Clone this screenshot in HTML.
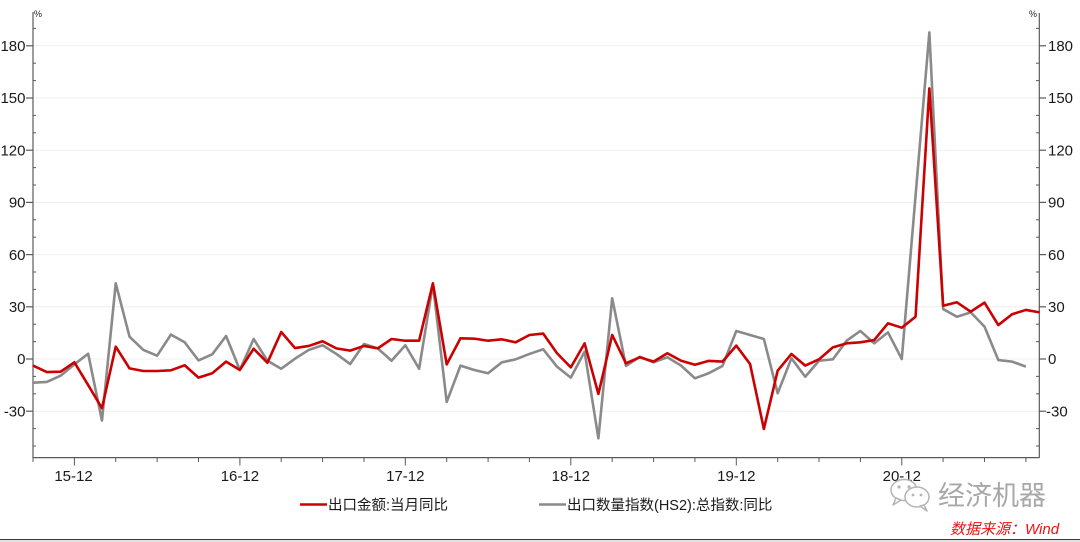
<!DOCTYPE html>
<html>
<head>
<meta charset="utf-8">
<style>
  html, body { margin: 0; padding: 0; background: #ffffff; }
  body { width: 1080px; height: 542px; overflow: hidden; }
  svg { display: block; }
  .ax { font-family: "Liberation Sans", "Noto Sans CJK SC", sans-serif; font-size: 15px; fill: #1a1a1a; }
  .lg { font-family: "Liberation Sans", "Noto Sans CJK SC", sans-serif; font-size: 14.5px; fill: #1a1a1a; }
</style>
</head>
<body>
<svg width="1080" height="542" viewBox="0 0 1080 542" xmlns="http://www.w3.org/2000/svg">
  <rect x="0" y="0" width="1080" height="542" fill="#ffffff"/>

  <!-- grid lines -->
  <g stroke="#efefef" stroke-width="1">
    <line x1="34" y1="45.8" x2="1039" y2="45.8"/>
    <line x1="34" y1="98" x2="1039" y2="98"/>
    <line x1="34" y1="150.2" x2="1039" y2="150.2"/>
    <line x1="34" y1="202.4" x2="1039" y2="202.4"/>
    <line x1="34" y1="254.6" x2="1039" y2="254.6"/>
    <line x1="34" y1="306.8" x2="1039" y2="306.8"/>
    <line x1="34" y1="359" x2="1039" y2="359"/>
    <line x1="34" y1="411.2" x2="1039" y2="411.2"/>
  </g>

  <!-- axes -->
  <g stroke="#5a5a5a" stroke-width="1.2" fill="none">
    <line x1="33" y1="12" x2="33" y2="458"/>
    <line x1="1039.3" y1="13" x2="1039.3" y2="458"/>
    <line x1="33" y1="457.6" x2="1039.3" y2="457.6"/>
  </g>

  <!-- left major ticks -->
  <g stroke="#5a5a5a" stroke-width="1.2">
    <line x1="26" y1="45.8" x2="33" y2="45.8"/>
    <line x1="26" y1="98" x2="33" y2="98"/>
    <line x1="26" y1="150.2" x2="33" y2="150.2"/>
    <line x1="26" y1="202.4" x2="33" y2="202.4"/>
    <line x1="26" y1="254.6" x2="33" y2="254.6"/>
    <line x1="26" y1="306.8" x2="33" y2="306.8"/>
    <line x1="26" y1="359" x2="33" y2="359"/>
    <line x1="26" y1="411.2" x2="33" y2="411.2"/>
    <!-- right major ticks -->
    <line x1="1039" y1="45.8" x2="1046" y2="45.8"/>
    <line x1="1039" y1="98" x2="1046" y2="98"/>
    <line x1="1039" y1="150.2" x2="1046" y2="150.2"/>
    <line x1="1039" y1="202.4" x2="1046" y2="202.4"/>
    <line x1="1039" y1="254.6" x2="1046" y2="254.6"/>
    <line x1="1039" y1="306.8" x2="1046" y2="306.8"/>
    <line x1="1039" y1="359" x2="1046" y2="359"/>
    <line x1="1039" y1="411.2" x2="1046" y2="411.2"/>
  </g>

  <!-- minor ticks (every 10) -->
  <g stroke="#5a5a5a" stroke-width="1">
    <line x1="33" y1="28.4" x2="36" y2="28.4"/><line x1="1036" y1="28.4" x2="1039" y2="28.4"/>
    <line x1="33" y1="63.2" x2="36" y2="63.2"/><line x1="1036" y1="63.2" x2="1039" y2="63.2"/>
    <line x1="33" y1="80.6" x2="36" y2="80.6"/><line x1="1036" y1="80.6" x2="1039" y2="80.6"/>
    <line x1="33" y1="115.4" x2="36" y2="115.4"/><line x1="1036" y1="115.4" x2="1039" y2="115.4"/>
    <line x1="33" y1="132.8" x2="36" y2="132.8"/><line x1="1036" y1="132.8" x2="1039" y2="132.8"/>
    <line x1="33" y1="167.6" x2="36" y2="167.6"/><line x1="1036" y1="167.6" x2="1039" y2="167.6"/>
    <line x1="33" y1="185" x2="36" y2="185"/><line x1="1036" y1="185" x2="1039" y2="185"/>
    <line x1="33" y1="219.8" x2="36" y2="219.8"/><line x1="1036" y1="219.8" x2="1039" y2="219.8"/>
    <line x1="33" y1="237.2" x2="36" y2="237.2"/><line x1="1036" y1="237.2" x2="1039" y2="237.2"/>
    <line x1="33" y1="272" x2="36" y2="272"/><line x1="1036" y1="272" x2="1039" y2="272"/>
    <line x1="33" y1="289.4" x2="36" y2="289.4"/><line x1="1036" y1="289.4" x2="1039" y2="289.4"/>
    <line x1="33" y1="324.2" x2="36" y2="324.2"/><line x1="1036" y1="324.2" x2="1039" y2="324.2"/>
    <line x1="33" y1="341.6" x2="36" y2="341.6"/><line x1="1036" y1="341.6" x2="1039" y2="341.6"/>
    <line x1="33" y1="376.4" x2="36" y2="376.4"/><line x1="1036" y1="376.4" x2="1039" y2="376.4"/>
    <line x1="33" y1="393.8" x2="36" y2="393.8"/><line x1="1036" y1="393.8" x2="1039" y2="393.8"/>
    <line x1="33" y1="428.6" x2="36" y2="428.6"/><line x1="1036" y1="428.6" x2="1039" y2="428.6"/>
    <line x1="33" y1="446" x2="36" y2="446"/><line x1="1036" y1="446" x2="1039" y2="446"/>
  </g>

  <!-- x ticks every 3 months: x = 33 + 41.37k -->
  <g stroke="#5a5a5a" stroke-width="1">
    <line x1="33" y1="457.6" x2="33" y2="462"/>
    <line x1="74.4" y1="457.6" x2="74.4" y2="465.5"/>
    <line x1="115.7" y1="457.6" x2="115.7" y2="462"/>
    <line x1="157.1" y1="457.6" x2="157.1" y2="462"/>
    <line x1="198.5" y1="457.6" x2="198.5" y2="462"/>
    <line x1="239.9" y1="457.6" x2="239.9" y2="465.5"/>
    <line x1="281.2" y1="457.6" x2="281.2" y2="462"/>
    <line x1="322.6" y1="457.6" x2="322.6" y2="462"/>
    <line x1="364" y1="457.6" x2="364" y2="462"/>
    <line x1="405.3" y1="457.6" x2="405.3" y2="465.5"/>
    <line x1="446.7" y1="457.6" x2="446.7" y2="462"/>
    <line x1="488.1" y1="457.6" x2="488.1" y2="462"/>
    <line x1="529.4" y1="457.6" x2="529.4" y2="462"/>
    <line x1="570.8" y1="457.6" x2="570.8" y2="465.5"/>
    <line x1="612.2" y1="457.6" x2="612.2" y2="462"/>
    <line x1="653.6" y1="457.6" x2="653.6" y2="462"/>
    <line x1="694.9" y1="457.6" x2="694.9" y2="462"/>
    <line x1="736.3" y1="457.6" x2="736.3" y2="465.5"/>
    <line x1="777.7" y1="457.6" x2="777.7" y2="462"/>
    <line x1="819" y1="457.6" x2="819" y2="462"/>
    <line x1="860.4" y1="457.6" x2="860.4" y2="462"/>
    <line x1="901.8" y1="457.6" x2="901.8" y2="465.5"/>
    <line x1="943.1" y1="457.6" x2="943.1" y2="462"/>
    <line x1="984.5" y1="457.6" x2="984.5" y2="462"/>
    <line x1="1025.9" y1="457.6" x2="1025.9" y2="462"/>
  </g>

  <!-- y labels left -->
  <g class="ax" text-anchor="end">
    <text x="25.5" y="51">180</text>
    <text x="25.5" y="103.2">150</text>
    <text x="25.5" y="155.4">120</text>
    <text x="25.5" y="207.6">90</text>
    <text x="25.5" y="259.8">60</text>
    <text x="25.5" y="312">30</text>
    <text x="25.5" y="364.2">0</text>
    <text x="25.5" y="416.4">-30</text>
  </g>
  <!-- y labels right -->
  <g class="ax" text-anchor="start">
    <text x="1048" y="51">180</text>
    <text x="1048" y="103.2">150</text>
    <text x="1048" y="155.4">120</text>
    <text x="1048" y="207.6">90</text>
    <text x="1048" y="259.8">60</text>
    <text x="1048" y="312">30</text>
    <text x="1048" y="364.2">0</text>
    <text x="1046" y="416.4">-30</text>
  </g>
  <text x="34" y="17" font-family="Liberation Sans, sans-serif" font-size="9" fill="#222">%</text>
  <text x="1029" y="17" font-family="Liberation Sans, sans-serif" font-size="9" fill="#222">%</text>

  <!-- x labels -->
  <g class="ax" text-anchor="middle">
    <text x="73.5" y="481">15-12</text>
    <text x="239.9" y="481">16-12</text>
    <text x="405.3" y="481">17-12</text>
    <text x="570.8" y="481">18-12</text>
    <text x="736.3" y="481">19-12</text>
    <text x="901.8" y="481">20-12</text>
  </g>

  <!-- series -->
  <g transform="matrix(13.79 0 0 -1.74 33 359)" fill="none" stroke-linejoin="round">
    <polyline vector-effect="non-scaling-stroke" stroke="#8a8a8a" stroke-width="2.6" points="0,-13.6 1,-13.2 2,-9.6 3,-3.1 4,3.0 5,-35.4 6,43.5 7,12.8 8,5.2 9,1.9 10,14 11,9.6 12,-0.8 13,2.7 14,13.2 15,-6.3 16,11.5 17,-1 18,-5.6 19,0.2 20,5.2 21,7.9 22,2.9 23,-2.9 24,8.6 25,6.1 26,-1 27,7.9 28,-5.6 29,43.1 30,-24.7 31,-3.8 32,-6.3 33,-8.2 34,-1.9 35,-0.2 36,2.9 37,5.6 38,-4.4 39,-10.7 40,4.2 41,-45.6 42,34.9 43,-4.0 44,1.3 45,-1.9 46,1 47,-3.8 48,-11.1 49,-8.2 50,-4 51,16.1 52,13.8 53,11.5 54,-19.7 55,0.4 56,-10.2 57,-1 58,-0.2 59,10.5 60,16.1 61,9 62,15.3 63,0 64,93.8 65,187.7 66,28.7 67,24.3 68,26.8 69,18.6 70,-0.6 71,-1.5 72,-4.4"/>
    <polyline vector-effect="non-scaling-stroke" stroke="#cc0000" stroke-width="2.6" points="0,-3.8 1,-7.5 2,-7.3 3,-1.9 4,-15 5,-28.3 6,7.1 7,-5.4 8,-6.9 9,-6.9 10,-6.5 11,-3.6 12,-10.7 13,-8.2 14,-1.5 15,-6.3 16,5.9 17,-2.1 18,15.5 19,6.3 20,7.5 21,10.2 22,6.1 23,4.8 24,7.5 25,6.1 26,11.5 27,10.5 28,10.5 29,43.5 30,-3.1 31,11.9 32,11.7 33,10.5 34,11.3 35,9.6 36,13.8 37,14.6 38,3.3 39,-4.8 40,9 41,-20.1 42,13.8 43,-2.5 44,1 45,-1.5 46,3.3 47,-1 48,-3.3 49,-1.1 50,-1.5 51,7.7 52,-2.9 53,-40.2 54,-6.7 55,2.9 56,-3.8 57,-0.2 58,6.7 59,9 60,9.6 61,10.9 62,20.5 63,18 64,24.3 65,155.5 66,30.6 67,32.6 68,27.2 69,32.4 70,19.5 71,25.7 72,28.2 73,26.8"/>
  </g>

  <!-- legend -->
  <line x1="300" y1="504.5" x2="327" y2="504.5" stroke="#cc0000" stroke-width="2.6"/>
  <text class="lg" x="328" y="510">出口金额:当月同比</text>
  <line x1="539" y1="504.5" x2="566" y2="504.5" stroke="#8a8a8a" stroke-width="2.6"/>
  <text class="lg" x="567" y="510">出口数量指数(HS2):总指数:同比</text>

  <!-- watermark -->
  <g fill="#ffffff" stroke="#b4b4b4" stroke-width="1.5">
    <ellipse cx="904" cy="490" rx="13" ry="10.5"/>
    <path d="M896 498 L893 505 L901 500 Z" stroke-linejoin="round"/>
    <ellipse cx="917" cy="497" rx="12" ry="10"/>
    <path d="M924 505 L927 511 L920 506 Z" stroke-linejoin="round"/>
  </g>
  <g fill="#b4b4b4">
    <circle cx="899" cy="487" r="1.6"/>
    <circle cx="909" cy="487" r="1.6"/>
    <circle cx="913" cy="495" r="1.4"/>
    <circle cx="921" cy="495" r="1.4"/>
  </g>
  <text x="938" y="505" font-family="Liberation Sans, 'Noto Sans CJK SC', sans-serif" font-size="27" fill="#a8a8a8">经济机器</text>
  <text x="950" y="534" font-family="Liberation Sans, 'Noto Sans CJK SC', sans-serif" font-size="15" font-style="italic" fill="#ee1111">数据来源：Wind</text>

  <!-- bottom border -->
  <rect x="0" y="540" width="1080" height="2" fill="#e2e2e2"/>
  <line x1="0" y1="539.5" x2="1080" y2="539.5" stroke="#3a3a3a" stroke-width="1"/>
</svg>
</body>
</html>
